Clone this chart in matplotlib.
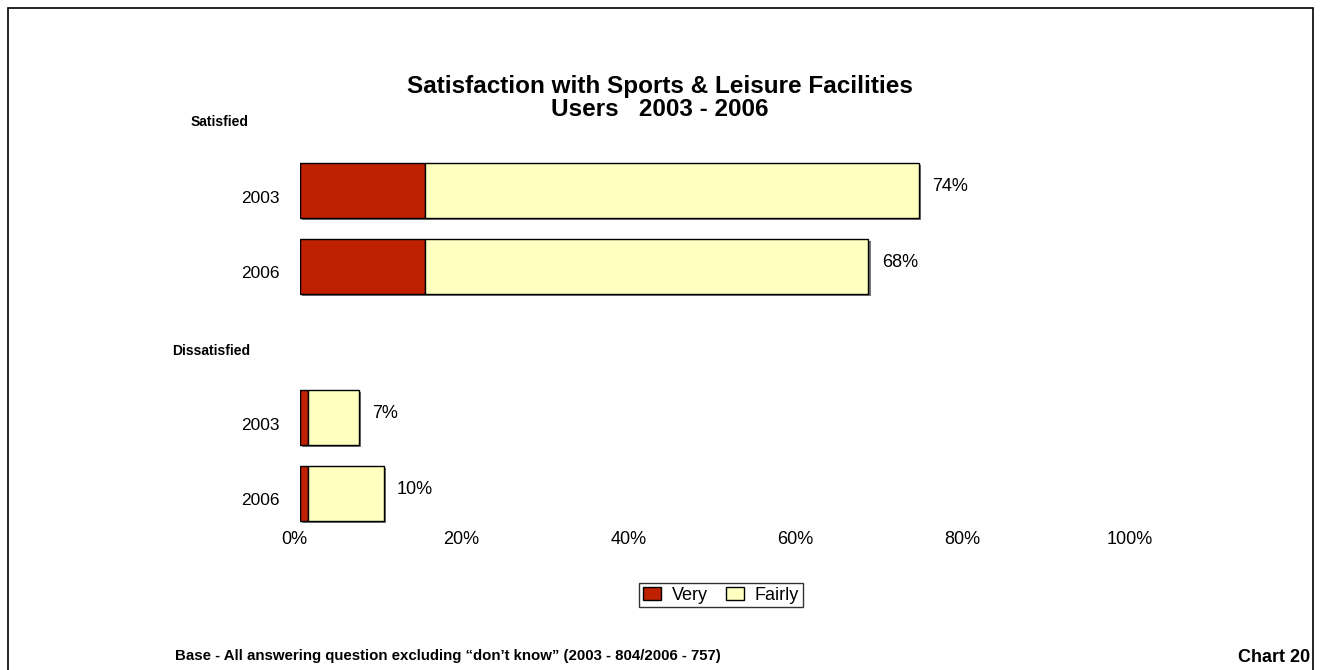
import matplotlib.pyplot as plt
import matplotlib.patheffects as pe
import matplotlib.transforms as mtransforms
from matplotlib.patches import Rectangle

plt.rcParams['font.family'] = ['Liberation Sans', 'DejaVu Sans']

years = ["2003", "2006", "2003", "2006"]
very = [15, 15, 1, 1]
fairly = [59, 53, 6, 9]
totals = [74, 68, 7, 10]
rows = [0, 1, 3, 4]
xticks = [0, 20, 40, 60, 80, 100]

W, H = 1321, 670
fig = plt.figure(figsize=(W / 100, H / 100), dpi=100)

# axes placed in pixel terms
left, right, top, bottom = 300, 1136, 140, 525
ax = fig.add_axes([left / W, 1 - bottom / H, (right - left) / W, (bottom - top) / H])

shadow = [pe.SimplePatchShadow(offset=(1.5, -1.5), shadow_rgbFace='#555555', alpha=0.8), pe.Normal()]
b1 = ax.barh(rows, very, height=0.73, color='#BF2000', edgecolor='black', linewidth=1, label='Very')
b2 = ax.barh(rows, fairly, left=very, height=0.73, color='#FFFFC0', edgecolor='black', linewidth=1, label='Fairly')
for p in list(b1) + list(b2):
    p.set_path_effects(shadow)

for r, t in zip(rows, totals):
    ax.text(t + 1.6, r - 0.05, f"{t}%", va='center', ha='left', fontsize=13)
for r, y in zip(rows, years):
    ax.text(-2.4, r + 0.1, y, va='center', ha='right', fontsize=12.5)

ax.set_xlim(0, 100)
ax.set_ylim(4.42, -0.67)
ax.set_xticks(xticks)
ax.set_xticklabels([f"{v}%" for v in xticks], fontsize=13)
ax.set_yticks([])
ax.tick_params(axis='x', length=0, pad=4)
offset = mtransforms.ScaledTranslation(-6 / 100, 0, fig.dpi_scale_trans)
for lab in ax.get_xticklabels():
    lab.set_transform(lab.get_transform() + offset)
for s in ax.spines.values():
    s.set_visible(False)

fig.text(191 / W, 1 - 122 / H, "Satisfied", fontsize=10, fontweight='bold', va='center')
fig.text(172 / W, 1 - 351 / H, "Dissatisfied", fontsize=10, fontweight='bold', va='center')

fig.text(660 / W, 1 - 86 / H, "Satisfaction with Sports & Leisure Facilities", fontsize=17.5,
         fontweight='bold', ha='center', va='center')
fig.text(660 / W, 1 - 109 / H, "Users   2003 - 2006", fontsize=17.5,
         fontweight='bold', ha='center', va='center')

leg = ax.legend(loc='center', bbox_to_anchor=(721 / W, 1 - 595 / H), bbox_transform=fig.transFigure,
                ncol=2, fontsize=13, frameon=True, fancybox=False, edgecolor='black',
                handlelength=1.0, handleheight=0.7, handletextpad=0.6, columnspacing=1.0,
                borderpad=0.2, borderaxespad=0)
leg.get_frame().set_linewidth(1)
for h in leg.legend_handles:
    h.set_path_effects([])

fig.text(175 / W, 1 - 656 / H, "Base - All answering question excluding \u201cdon\u2019t know\u201d (2003 - 804/2006 - 757)",
         fontsize=10.8, fontweight='bold', va='center')
fig.text(1310 / W, 1 - 657 / H, "Chart 20", fontsize=13, fontweight='bold', ha='right', va='center')

# outer frame
fig.patches.append(Rectangle((8 / W, -0.05), (1313 - 8) / W, 1.05 - 8 / H, transform=fig.transFigure,
                             fill=False, edgecolor='black', linewidth=1.2))

fig.savefig("out.png", dpi=100)
